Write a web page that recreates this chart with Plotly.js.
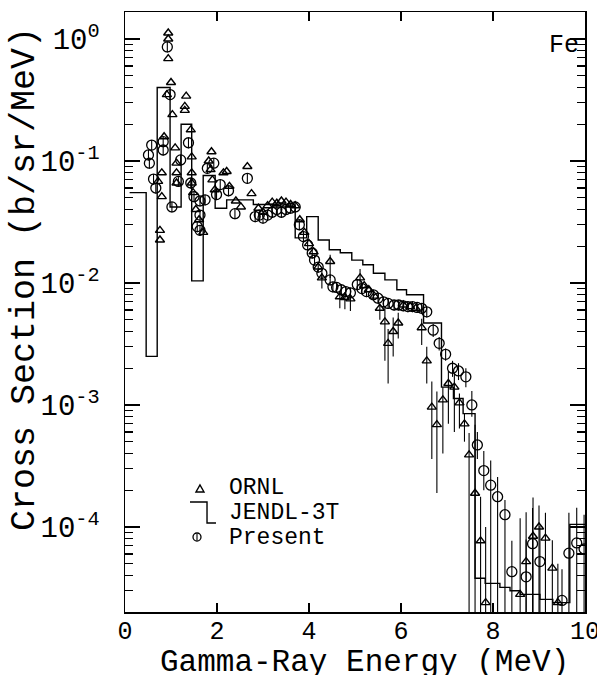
<!DOCTYPE html>
<html><head><meta charset="utf-8">
<script src="https://cdn.plot.ly/plotly-3.0.1.min.js"></script>
<style>html,body{margin:0;padding:0;background:#fff}#chart{width:597px;height:675px}</style>
</head><body><div id="chart"></div>
<script>
// ---- JENDL-3T histogram: bin edges (MeV) and values (b/sr/MeV) ----
const jendlEdges = [0.1,0.46,0.70,0.98,1.22,1.45,1.70,1.96,2.21,2.79,3.20,3.70,3.95,4.20,4.44,4.68,4.93,5.17,5.40,5.65,5.91,6.12,6.49,6.88,7.14,7.35,7.61,7.83,8.15,8.37,8.59,9.02,9.30,9.67,10.0];
const jendlVals  = [0.055,0.0025,0.40,0.042,0.20,0.0104,0.076,0.041,0.048,0.044,0.042,0.0234,0.035,0.0225,0.0187,0.0177,0.0154,0.0141,0.012,0.0106,0.0088,0.0080,0.0047,0.0014,0.00113,0.00085,3.8e-5,3.45e-5,3.2e-5,3.0e-5,2.8e-5,2.55e-5,2.4e-5,1.05e-4];

// ---- ORNL (triangles) ----
const ornlE = [0.72,0.76,0.76,0.80,0.80,0.85,0.91,0.94,0.94,0.94,1.00,1.03,1.09,1.12,1.12,1.12,1.30,1.30,1.33,1.43,1.45,1.45,1.45,1.48,1.54,1.61,1.70,1.82,1.86,1.88,1.90,1.95,2.14,2.21,2.27,2.41,2.52,2.66,2.75,2.90,3.00,3.10,3.20,3.30,3.40,3.50,3.60,3.70,3.80,3.90,4.00,4.10,4.20,4.28,4.46,4.67,4.78,4.90,5.11,5.20,5.30,5.42,5.54,5.65,5.72,5.83,5.94,6.05,6.20,6.32,6.45,6.56,6.67,6.78,6.91,7.03,7.16,7.27,7.38,7.48,7.61,7.73,7.84,8.59,8.72,8.87,9.00,9.14,9.29,9.41];
const ornlV = [0.068,0.027,0.0225,0.080,0.051,0.158,0.35,1.12,1.0,0.69,0.44,0.24,0.128,0.096,0.080,0.066,0.28,0.26,0.34,0.18,0.108,0.080,0.066,0.055,0.040,0.033,0.026,0.10,0.085,0.119,0.07,0.058,0.080,0.082,0.062,0.047,0.042,0.090,0.054,0.041,0.038,0.043,0.046,0.045,0.047,0.046,0.044,0.043,0.033,0.026,0.021,0.018,0.0135,0.011,0.015,0.0077,0.0076,0.0074,0.011,0.0095,0.0088,0.0078,0.0062,0.0048,0.0032,0.0040,0.0047,0.0066,0.0064,0.0062,0.0043,0.0023,0.00096,0.00069,0.0011,0.0015,0.0014,0.00104,0.00070,0.00039,0.000189,7.7e-5,2.4e-5,2.8e-5,5.2e-5,8.4e-5,1.0e-4,8.1e-5,4.6e-5,2.4e-5];
// ORNL error bars (energy, +err, -err)
const ornlErrE  = [4.28,4.46,4.67,4.78,4.90,5.11,5.54,5.65,5.72,5.83,5.94,6.45,6.56,6.67,6.78,6.91,7.03,7.16,7.27,7.38,7.48,7.61,7.73,7.84,8.59,8.72,8.87,9.00,9.14,9.29,9.41];
const ornlErrUp = [0.001,0.002,0.0008,0.0008,0.0008,0.002,0.0005,0.0015,0.001,0.0012,0.001,0.0008,0.0007,0.0006,0.0006,0.0003,0.0004,0.0004,0.0002,0.00015,0.0002,0.0005,1e-4,7.6e-5,9e-5,8e-5,9e-5,5e-5,5e-5,3.2e-5,2.6e-5];
const ornlErrDn = [0.002,0.004,0.0015,0.0015,0.0015,0.002,0.0012,0.0025,0.0017,0.0015,0.0012,0.0012,0.0008,0.0006,0.0005,0.0007,0.0008,0.0008,0.0004,0.0002,0.0004,0.0002,1e-4,3e-5,3e-5,6e-5,9e-5,1e-4,9e-5,5e-5,3e-5];

// ---- Present (circles) ----
const presE = [0.51,0.53,0.58,0.62,0.67,0.83,0.83,0.92,0.98,1.02,1.16,1.21,1.38,1.43,1.50,1.57,1.63,1.63,1.63,1.74,1.79,1.93,1.99,2.07,2.25,2.39,2.66,2.83,2.92,3.00,3.10,3.20,3.30,3.40,3.50,3.60,3.70,3.79,3.88,3.97,4.07,4.12,4.20,4.28,4.46,4.52,4.60,4.70,4.80,4.90,5.05,5.15,5.25,5.40,5.50,5.62,5.72,5.85,5.95,6.05,6.15,6.25,6.35,6.45,6.56,6.70,6.83,6.97,7.12,7.25,7.41,7.54,7.66,7.80,7.95,8.10,8.26,8.41,8.72,8.86,9.02,9.50,9.65,9.82,9.98];
const presV = [0.112,0.096,0.135,0.071,0.060,0.123,0.144,0.86,0.35,0.042,0.068,0.102,0.141,0.066,0.051,0.029,0.047,0.036,0.027,0.048,0.087,0.096,0.053,0.064,0.057,0.037,0.072,0.035,0.036,0.034,0.036,0.038,0.040,0.038,0.040,0.041,0.042,0.030,0.024,0.0205,0.0176,0.0154,0.0135,0.012,0.0106,0.0093,0.0092,0.0088,0.0085,0.0083,0.0097,0.0090,0.0085,0.0080,0.0075,0.0070,0.0068,0.0066,0.0066,0.0065,0.0064,0.0064,0.0063,0.0062,0.0058,0.0041,0.0032,0.0026,0.0020,0.0019,0.0017,0.0010,0.00047,0.00029,0.00022,0.000177,0.000126,4.3e-5,3.9e-5,7.3e-5,5.2e-5,2.5e-5,6.1e-5,7.4e-5,6.6e-5];
const presErrE  = [6.70,6.83,6.97,7.12,7.25,7.41,7.54,7.66,7.80,7.95,8.10,8.26,8.41,8.72,8.86,9.02,9.50,9.65,9.82,9.98];
const presErrUp = [0.0005,0.0004,0.0003,0.0003,0.0003,0.0003,0.0003,0.00013,0.00013,0.00013,0.00008,0.00004,3.4e-5,4e-5,7e-5,5e-5,2e-5,7e-5,7e-5,6e-5];
const presErrDn = [0.0005,0.0004,0.0003,0.0003,0.0003,0.0003,0.0002,0.00011,0.00009,0.00023,0.00018,0.00013,5e-5,5e-5,8e-5,6e-5,3e-5,7e-5,8e-5,7e-5];

// ---- axis tick labels ----
const xTickVals = [0,2,4,6,8,10];
const xTickText = ['0','2','4','6','8','10'];
const yTickVals = [1,0.1,0.01,0.001,0.0001];
const yTickText = ['10<sup>0</sup>','10<sup>-1</sup>','10<sup>-2</sup>','10<sup>-3</sup>','10<sup>-4</sup>'];
const legendLabels = ['ORNL','JENDL-3T','Present'];
const elementLabel = 'Fe';
const xTitle = 'Gamma-Ray Energy (MeV)';
const yTitle = 'Cross Section (b/sr/MeV)';

// ---- build ----
const FONT = 'Liberation Mono, Courier New, monospace';
const W = 597, H = 675, L = 125, R = 12, T = 12, B = 63;
const pw = W - L - R, ph = H - T - B;
const px = x => (x - L) / pw;
const py = y => (H - B - y) / ph;

function buildErr(E, V, eE, eU, eD, defFrac) {
  const up = [], dn = [];
  E.forEach((e, i) => {
    const k = eE.indexOf(e);
    if (k >= 0) { up.push(eU[k]); dn.push(eD[k]); }
    else { up.push(V[i] * defFrac); dn.push(V[i] * defFrac); }
  });
  return {up, dn};
}
const oErr = buildErr(ornlE, ornlV, ornlErrE, ornlErrUp, ornlErrDn, 0);
const pErr = buildErr(presE, presV, presErrE, presErrUp, presErrDn, 0.1);

const stepX = jendlEdges.slice();
const stepY = jendlVals.concat([jendlVals[jendlVals.length - 1]]);

const traces = [
  {x: stepX, y: stepY, type: 'scatter', mode: 'lines', line: {shape: 'hv', color: '#000', width: 1.4}, hoverinfo: 'skip'},
  {x: ornlE, y: ornlV, type: 'scatter', mode: 'markers',
   marker: {symbol: 'triangle-up-open', size: 8, color: '#000', line: {width: 1.4, color: '#000'}},
   error_y: {type: 'data', symmetric: false, array: oErr.up, arrayminus: oErr.dn, width: 0, thickness: 1.1, color: '#000'}},
  {x: presE, y: presV, type: 'scatter', mode: 'markers',
   marker: {symbol: 'circle-open', size: 10, color: '#000', line: {width: 1.3, color: '#000'}},
   error_y: {type: 'data', symmetric: false, array: pErr.up, arrayminus: pErr.dn, width: 0, thickness: 1.1, color: '#000'}}
];

const minorVals = [];
for (let k = -5; k <= 0; k++) for (let m = 2; m <= 9; m++) minorVals.push(m * Math.pow(10, k));

const legendFont = {family: FONT, size: 23, color: '#000'};
const annotations = [
  {text: yTitle, xref: 'paper', yref: 'paper', x: px(25), y: py(279), textangle: -90, showarrow: false, xanchor: 'center', yanchor: 'middle', font: {family: FONT, size: 35, color: '#000'}},
  {text: xTitle, xref: 'paper', yref: 'paper', x: px(364), y: py(662), showarrow: false, xanchor: 'center', yanchor: 'middle', font: {family: FONT, size: 31, color: '#000'}},
  {text: elementLabel, xref: 'paper', yref: 'paper', x: px(564), y: py(46), showarrow: false, xanchor: 'center', yanchor: 'middle', font: {family: FONT, size: 25, color: '#000'}},
  {text: legendLabels[0], xref: 'paper', yref: 'paper', x: px(227), y: py(488), showarrow: false, xanchor: 'left', yanchor: 'middle', font: legendFont},
  {text: legendLabels[1], xref: 'paper', yref: 'paper', x: px(227), y: py(513), showarrow: false, xanchor: 'left', yanchor: 'middle', font: legendFont},
  {text: legendLabels[2], xref: 'paper', yref: 'paper', x: px(227), y: py(538), showarrow: false, xanchor: 'left', yanchor: 'middle', font: legendFont}
];

const P = (x, y) => px(x).toFixed(4) + ',' + py(y).toFixed(4);
const shapes = [
  {type: 'path', xref: 'paper', yref: 'paper', path: 'M' + P(196, 492) + ' L' + P(204, 492) + ' L' + P(200, 485) + ' Z', line: {color: '#000', width: 1.4}},
  {type: 'path', xref: 'paper', yref: 'paper', path: 'M' + P(190, 502) + ' L' + P(207, 502) + ' L' + P(207, 523) + ' L' + P(216, 523), line: {color: '#000', width: 1.4}},
  {type: 'circle', xref: 'paper', yref: 'paper', x0: px(193), x1: px(201), y0: py(533), y1: py(541), line: {color: '#000', width: 1.3}},
  {type: 'line', xref: 'paper', yref: 'paper', x0: px(197), x1: px(197), y0: py(534), y1: py(540), line: {color: '#000', width: 1.1}}
];

const axisCommon = {showline: true, linecolor: '#000', linewidth: 1.5, mirror: 'allticks', showgrid: false, zeroline: false, ticks: 'inside', tickcolor: '#000', tickwidth: 1.3};

const layout = {
  width: W, height: H, margin: {l: L, r: R, t: T, b: B},
  paper_bgcolor: '#fff', plot_bgcolor: '#fff', showlegend: false,
  xaxis: Object.assign({}, axisCommon, {range: [0, 10], tickmode: 'array', tickvals: xTickVals, ticktext: xTickText, ticklen: 9,
    ticklabeloverflow: 'allow', tickfont: {family: FONT, size: 25, color: '#000'}, ticklabelstandoff: -5}),
  yaxis: Object.assign({}, axisCommon, {type: 'log', range: [-4.697, 0.221], tickmode: 'array', tickvals: yTickVals, ticktext: yTickText, ticklen: 15,
    minor: {ticks: 'inside', ticklen: 8, tickvals: minorVals, tickcolor: '#000', tickwidth: 1.1, showgrid: false},
    tickfont: {family: FONT, size: 29, color: '#000'}, ticklabelstandoff: 18}),
  annotations: annotations, shapes: shapes
};

Plotly.newPlot('chart', traces, layout, {staticPlot: true, displayModeBar: false});
</script></body></html>
